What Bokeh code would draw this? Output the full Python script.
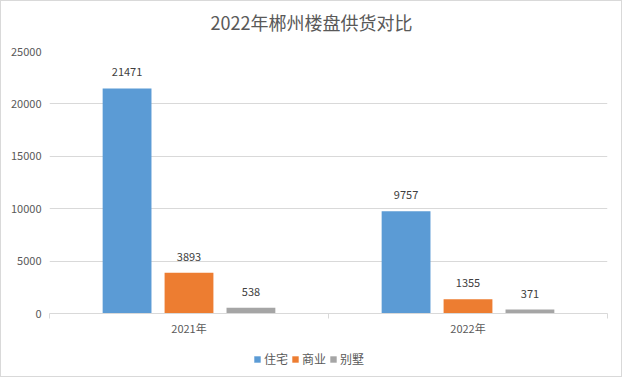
from bokeh.plotting import figure
from bokeh.layouts import column
from bokeh.models import Range1d, FixedTicker, ColumnDataSource, Legend, LegendItem, Label
from bokeh.transform import dodge
from bokeh.embed import file_html
from bokeh.resources import INLINE
from bokeh.core.properties import value

title = "2022年郴州楼盘供货对比"
years = ["2021年", "2022年"]
series_names = ["住宅", "商业", "别墅"]
residential = [21471, 9757]
commercial = [3893, 1355]
villa = [538, 371]
y_ticks = [0, 5000, 10000, 15000, 20000, 25000]
colors = ["#5B9BD5", "#ED7D31", "#A5A5A5"]

FONT = "Noto Sans CJK SC"
TXT = "#595959"
GRID = "#D9D9D9"
W = 620
ML, MR = 48, 14

centers = [i + 0.5 for i in range(len(years))]
bounds = list(range(len(years) + 1))
series = [residential, commercial, villa]
offsets = [-0.222, 0.0, 0.222]
bar_w = 0.175

data = {"xc": centers, "year": years}
for k, s in enumerate(series):
    data[f"v{k}"] = s
    data[f"t{k}"] = [str(v) for v in s]
src = ColumnDataSource(data)


def strip(h):
    # frame is aligned with the main chart's frame by the column layout;
    # map the whole canvas width to 0..1
    f = figure(width=W, height=h, output_backend="svg", toolbar_location=None,
               x_range=Range1d(ML / W, (W - MR) / W), y_range=Range1d(0, 1),
               x_axis_location=None, y_axis_location=None,
               min_border_left=0, min_border_right=0, min_border_top=0, min_border_bottom=0)
    f.outline_line_color = None
    f.grid.visible = False
    return f


# title strip
t = strip(40)
t.add_layout(Label(x=0.5, y=0.5, text=title, text_align="center", text_baseline="middle",
                   text_font=FONT, text_font_size="18px", text_color=TXT))

# main chart
p = figure(width=W, height=297, output_backend="svg", toolbar_location=None,
           x_range=Range1d(0, len(years)), y_range=Range1d(0, y_ticks[-1]),
           min_border_left=ML, min_border_right=MR, min_border_top=10, min_border_bottom=24)

for k, name in enumerate(series_names):
    p.vbar(x=dodge("xc", offsets[k], range=p.x_range), top=f"v{k}", width=bar_w,
           source=src, fill_color=colors[k], line_color=None)
    p.text(x=dodge("xc", offsets[k], range=p.x_range), y=f"v{k}", text=f"t{k}", source=src,
           text_align="center", text_baseline="middle", y_offset=-16,
           text_font=value(FONT), text_font_size="11px", text_color="#404040")

p.outline_line_color = None
p.xgrid.grid_line_color = None
p.ygrid.grid_line_color = GRID
p.ygrid.ticker = FixedTicker(ticks=y_ticks)

ya = p.yaxis[0]
ya.ticker = FixedTicker(ticks=y_ticks)
ya.axis_line_color = None
ya.major_tick_line_color = None
ya.minor_tick_line_color = None
ya.major_tick_out = 0
ya.major_tick_in = 0
ya.major_label_standoff = 8
ya.major_label_text_font = FONT
ya.major_label_text_font_size = "11px"
ya.major_label_text_color = TXT

xa = p.xaxis[0]
xa.ticker = FixedTicker(ticks=centers, minor_ticks=bounds)
xa.major_label_overrides = {c: y for c, y in zip(centers, years)}
xa.axis_line_color = GRID
xa.major_tick_line_color = None
xa.major_tick_out = 0
xa.major_tick_in = 0
xa.minor_tick_line_color = GRID
xa.minor_tick_out = 5
xa.minor_tick_in = 0
xa.major_label_standoff = 1
xa.major_label_text_font = FONT
xa.major_label_text_font_size = "11px"
xa.major_label_text_color = TXT

# legend strip (keys reuse the series data, hidden from view)
q = strip(38)
items = []
for k, name in enumerate(series_names):
    r = q.vbar(x=dodge("xc", offsets[k], range=q.x_range), top=f"v{k}", width=bar_w,
               source=src, fill_color=colors[k], line_color=None, visible=False)
    items.append(LegendItem(label=name, renderers=[r]))
legend = Legend(items=items, orientation="horizontal", location=(204, 9),
                glyph_width=8, glyph_height=8, label_standoff=3, spacing=3,
                label_text_font=FONT, label_text_font_size="12px", label_text_color=TXT,
                border_line_color=None, background_fill_alpha=0, margin=0, padding=0,
                inactive_fill_alpha=0)
q.add_layout(legend, "center")

layout = column(t, p, q, spacing=0, styles={"border": "1px solid #D9D9D9", "background": "white"})

open("out.html", "w").write(file_html(layout, INLINE))
